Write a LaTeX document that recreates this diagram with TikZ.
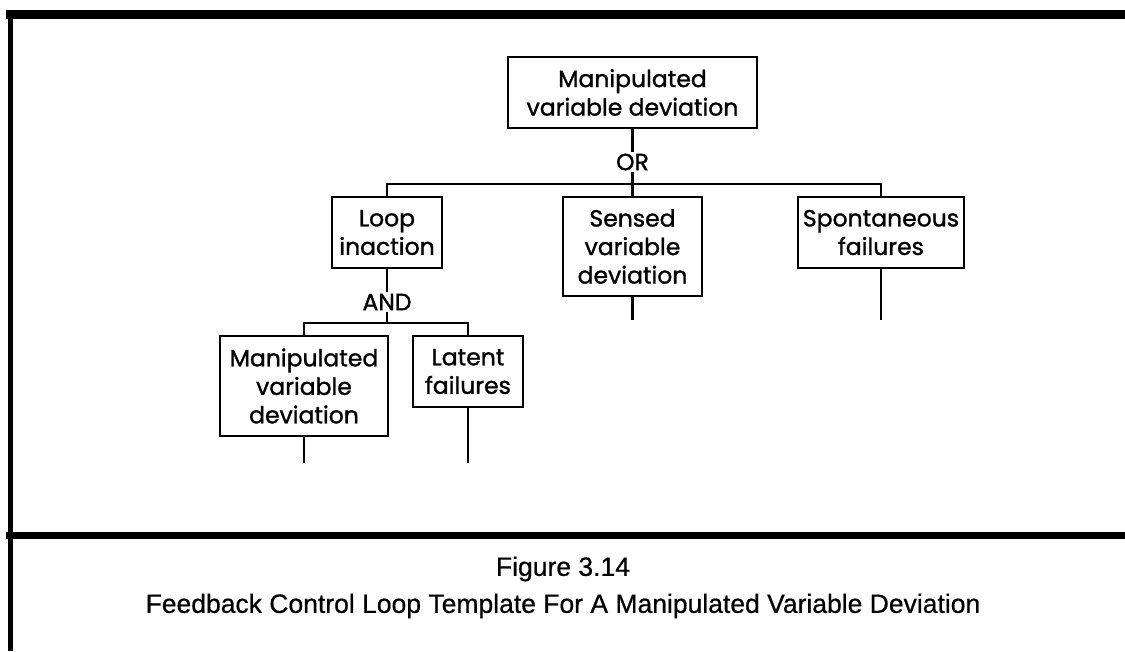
\documentclass[tikz,border=0pt]{standalone}
\usepackage{fontspec}
\setmainfont{Poppins}
\newfontface\plotfont{Poppins}[FakeBold=1.2]
\newfontface\capfont{Liberation Sans}[FakeBold=0.6]
\begin{document}
\begin{tikzpicture}[x=1pt,y=-1pt,
  box/.style={draw, line width=2.6pt, inner sep=0pt, align=center,
    font=\plotfont\fontsize{23.5}{28.5}\selectfont},
  lbl/.style={inner sep=1.5pt, font=\plotfont\fontsize{23.5}{26}\selectfont},
  tree/.style={line width=2.6pt},
  framerule/.style={line cap=butt},
  captext/.style={font=\capfont\fontsize{26.5}{30}\selectfont}]
\useasboundingbox (0,0) rectangle (1125,651);
% frame
\coordinate (tl) at (6,14.5);
\coordinate (tr) at (1125,14.5);
\coordinate (ml) at (6,535);
\coordinate (mr) at (1125,535);
\coordinate (bl) at (10,651);
\coordinate (tlv) at (10,10);
\draw[framerule, line width=9pt] (tl) -- (tr);
\draw[framerule, line width=7pt] (ml) -- (mr);
\draw[framerule, line width=5pt] (tlv) -- (bl);
% boxes
\node[box, minimum width=249pt, minimum height=71pt] (top) at (632.5,92.5) {Manipulated\\variable deviation};
\node[lbl] (or) at (632.5,162) {OR};
\coordinate (j1) at (632.5,184);
\node[box, minimum width=110pt, minimum height=71pt] (loop) at (387,232.5) {Loop\\inaction};
\node[box, minimum width=139pt, minimum height=99pt] (sens) at (632.5,246.5) {Sensed\\variable\\deviation};
\node[box, minimum width=166pt, minimum height=71pt] (spon) at (881,232.5) {Spontaneous\\failures};
\node[lbl] (and) at (387,302) {AND};
\coordinate (j2) at (387,323);
\node[box, minimum width=168pt, minimum height=100pt] (man) at (304,386) {Manipulated\\variable\\deviation};
\node[box, minimum width=110pt, minimum height=71pt] (lat) at (468,371.5) {Latent\\failures};
\coordinate (sensEnd) at (632.5,320);
\coordinate (sponEnd) at (881,320);
\coordinate (manEnd) at (304,463);
\coordinate (latEnd) at (468,463);
% connectors
\draw[tree] (top.south) -- (or.north);
\draw[tree] (or.south) -- (j1);
\draw[tree] (loop.north) |- (j1) -| (spon.north);
\draw[tree] (j1) -- (sens.north);
\draw[tree] (sens.south) -- (sensEnd);
\draw[tree] (spon.south) -- (sponEnd);
\draw[tree] (loop.south) -- (and.north);
\draw[tree] (and.south) -- (j2);
\draw[tree] (man.north) |- (j2) -| (lat.north);
\draw[tree] (man.south) -- (manEnd);
\draw[tree] (lat.south) -- (latEnd);
% caption
\node[captext] (fig) at (563,569) {Figure 3.14};
\node[captext] (title) at (563,606) {Feedback Control Loop Template For A Manipulated Variable Deviation};
\end{tikzpicture}
\end{document}
